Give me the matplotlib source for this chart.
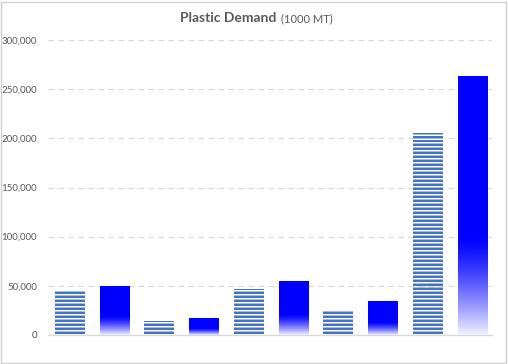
import numpy as np
import matplotlib.pyplot as plt
from matplotlib.patches import Rectangle

# Plastic demand, 1000 MT (10 bars, alternating striped / gradient fill)
demand = [44500, 50000, 14000, 17500, 47000, 55000, 25000, 34500, 205500, 263000]
fills = ['stripe', 'grad'] * 5
yticks = [0, 50000, 100000, 150000, 200000, 250000, 300000]

plt.rcParams['font.family'] = ['Lato', 'DejaVu Sans']

fig = plt.figure(figsize=(5.08, 3.64), dpi=100)
ax = fig.add_axes([48 / 508, 1 - 335 / 364, 444 / 508, 295 / 364])

x = np.arange(len(demand))
bars = ax.bar(x, demand, width=0.67, color='none', edgecolor='none', zorder=2)

ax.set_ylim(0, 300000)
ax.set_xlim(-0.49, 9.43)

# data units per pixel (for stripe spacing)
px = 300000 / 295

for bar, kind in zip(bars, fills):
    x0, w, h = bar.get_x(), bar.get_width(), bar.get_height()
    if kind == 'grad':
        n = 200
        t = np.linspace(0, 1, n)  # 0 top -> 1 bottom
        fade = np.clip((t - 0.62) / 0.38, 0, 1) ** 1.3
        top = np.array([0, 0, 1.0])
        bot = np.array([0.94, 0.94, 1.0])
        rgb = top[None, :] * (1 - fade[:, None]) + bot[None, :] * fade[:, None]
        img = np.repeat(rgb[:, None, :], 8, axis=1)
        im = ax.imshow(img, extent=[x0, x0 + w, 0, h], aspect='auto',
                       interpolation='bilinear', origin='upper', zorder=3)
        im.set_clip_path(bar)
    else:
        # 2px dark stripe + 1px light stripe every 4px, clipped to the bar
        dark = np.arange(2 * px, h + 2 * px, 4 * px)
        light = np.arange(4.5 * px, h + 2 * px, 4 * px)
        l1 = ax.hlines(dark, x0, x0 + w, colors='#4472C4', linewidth=1.44,
                       antialiased=False, zorder=3)
        l2 = ax.hlines(light, x0, x0 + w, colors='#A5B9E0', linewidth=0.72,
                       antialiased=False, zorder=3)
        l1.set_clip_path(bar)
        l2.set_clip_path(bar)

ax.set_yticks(yticks)
ax.set_yticklabels([f'{v:,}' for v in yticks])
ax.tick_params(axis='y', length=0, labelsize=7, labelcolor='#595959', pad=8)
ax.tick_params(axis='x', length=0, labelbottom=False)
ax.grid(axis='y', color='#d9d9d9', linestyle=(0, (5, 4)), linewidth=0.8, zorder=0)
for s in ['top', 'right', 'left']:
    ax.spines[s].set_visible(False)
ax.spines['bottom'].set_color('#d9d9d9')
ax.spines['bottom'].set_linewidth(1.0)

# title in two parts, sharing a baseline
ty = 1 - 22 / 364
t1 = fig.text(180 / 508, ty, 'Plastic Demand', fontsize=10, fontweight='bold',
              color='#595959', ha='left', va='baseline')
fig.canvas.draw()
bb = t1.get_window_extent()
fig.text(bb.x1 / fig.bbox.width + 5 / 508, ty, '(1000 MT)', fontsize=8,
         color='#595959', ha='left', va='baseline')

fig.patches.append(Rectangle((0.002, 0.003), 0.994, 0.992, transform=fig.transFigure,
                             fill=False, edgecolor='#d0d0d0', linewidth=1))

fig.savefig('out.png', dpi=100)
